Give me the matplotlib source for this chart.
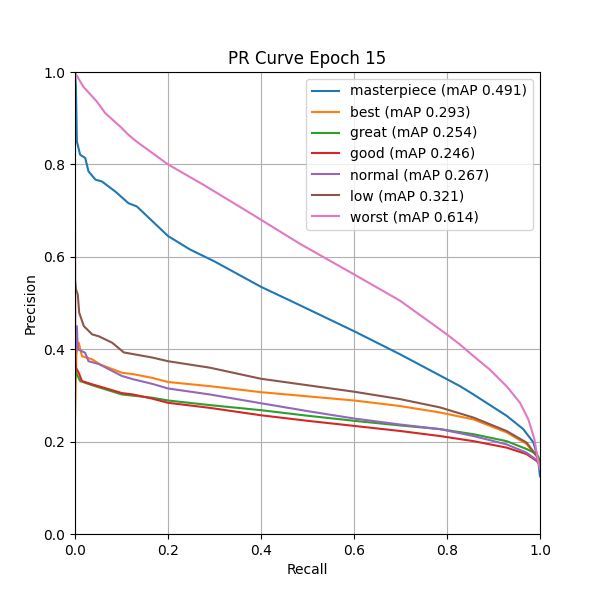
import matplotlib
matplotlib.use("Agg")
import matplotlib.pyplot as plt

names = ["masterpiece", "best", "great", "good", "normal", "low", "worst"]
maps = [0.491, 0.293, 0.254, 0.246, 0.267, 0.321, 0.614]

masterpiece_r = [0, 0.002, 0.004, 0.011, 0.022, 0.029, 0.044, 0.058, 0.087, 0.115, 0.133, 0.2, 0.247, 0.3, 0.4, 0.484, 0.6, 0.699, 0.8, 0.828, 0.857, 0.928, 0.964, 0.986, 0.996, 1.0]
masterpiece_p = [1.0, 0.965, 0.85, 0.821, 0.814, 0.785, 0.767, 0.763, 0.741, 0.716, 0.709, 0.645, 0.616, 0.59, 0.535, 0.495, 0.439, 0.389, 0.335, 0.32, 0.302, 0.256, 0.227, 0.198, 0.162, 0.125]

best_r = [0, 0.003, 0.008, 0.015, 0.037, 0.054, 0.101, 0.125, 0.166, 0.2, 0.29, 0.4, 0.5, 0.6, 0.699, 0.785, 0.857, 0.928, 0.971, 0.993, 1.0]
best_p = [0.25, 0.39, 0.414, 0.385, 0.378, 0.367, 0.349, 0.346, 0.338, 0.329, 0.32, 0.307, 0.298, 0.289, 0.277, 0.263, 0.248, 0.22, 0.195, 0.168, 0.15]

great_r = [0, 0.002, 0.011, 0.037, 0.101, 0.166, 0.2, 0.29, 0.4, 0.5, 0.6, 0.699, 0.785, 0.857, 0.928, 0.971, 0.993, 1.0]
great_p = [0.37, 0.35, 0.331, 0.322, 0.302, 0.295, 0.289, 0.279, 0.268, 0.256, 0.245, 0.235, 0.227, 0.216, 0.201, 0.184, 0.173, 0.16]

good_r = [0, 0.0005, 0.002, 0.008, 0.015, 0.037, 0.054, 0.101, 0.125, 0.166, 0.2, 0.29, 0.4, 0.5, 0.6, 0.699, 0.785, 0.857, 0.928, 0.971, 0.993, 1.0]
good_p = [0.68, 0.38, 0.36, 0.349, 0.331, 0.324, 0.319, 0.305, 0.302, 0.293, 0.284, 0.273, 0.257, 0.245, 0.234, 0.223, 0.212, 0.201, 0.187, 0.173, 0.158, 0.15]

normal_r = [0, 0.004, 0.006, 0.022, 0.029, 0.051, 0.101, 0.125, 0.166, 0.2, 0.29, 0.4, 0.5, 0.6, 0.699, 0.785, 0.857, 0.928, 0.971, 0.993, 1.0]
normal_p = [0.38, 0.45, 0.40, 0.392, 0.374, 0.368, 0.342, 0.335, 0.325, 0.315, 0.302, 0.283, 0.266, 0.25, 0.237, 0.227, 0.212, 0.194, 0.176, 0.16, 0.15]

low_r = [0, 0.002, 0.006, 0.009, 0.019, 0.037, 0.051, 0.08, 0.105, 0.166, 0.2, 0.29, 0.4, 0.5, 0.6, 0.699, 0.785, 0.857, 0.928, 0.971, 0.993, 1.0]
low_p = [0.55, 0.53, 0.518, 0.479, 0.45, 0.432, 0.428, 0.414, 0.393, 0.382, 0.374, 0.36, 0.336, 0.322, 0.308, 0.292, 0.274, 0.252, 0.223, 0.198, 0.169, 0.15]

worst_r = [0, 0.002, 0.018, 0.047, 0.065, 0.097, 0.115, 0.133, 0.2, 0.276, 0.376, 0.484, 0.6, 0.699, 0.8, 0.828, 0.857, 0.892, 0.928, 0.957, 0.975, 0.988, 0.994, 1.0]
worst_p = [1.0, 0.995, 0.968, 0.936, 0.911, 0.882, 0.864, 0.849, 0.80, 0.756, 0.695, 0.628, 0.562, 0.505, 0.432, 0.41, 0.385, 0.356, 0.32, 0.284, 0.248, 0.205, 0.169, 0.14]

curves = [
    (masterpiece_r, masterpiece_p),
    (best_r, best_p),
    (great_r, great_p),
    (good_r, good_p),
    (normal_r, normal_p),
    (low_r, low_p),
    (worst_r, worst_p),
]

fig, ax = plt.subplots(figsize=(6, 6), dpi=100)
for name, m, (r, p) in zip(names, maps, curves):
    ax.plot(r, p, label=f"{name} (mAP {m:.3f})")
ax.set_xlim(0, 1)
ax.set_ylim(0, 1)
ax.set_xlabel("Recall")
ax.set_ylabel("Precision")
ax.set_title("PR Curve Epoch 15")
ax.grid(True)
ax.legend(loc="upper right")
fig.savefig("out.png")
